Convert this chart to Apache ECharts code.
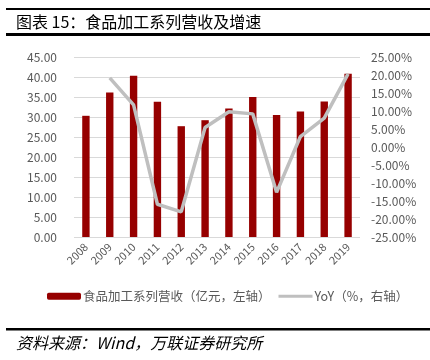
<!DOCTYPE html>
<html>
<head>
<meta charset="utf-8">
<script src="https://cdn.jsdelivr.net/npm/echarts@6/dist/echarts.min.js"></script>
<style>
html,body{margin:0;padding:0;background:#fff;}
#c{width:430px;height:360px;}
</style>
</head>
<body>
<div id="c"></div>
<script>
var categories = ['2008','2009','2010','2011','2012','2013','2014','2015','2016','2017','2018','2019'];
var revenue = [30.3, 36.1, 40.3, 33.8, 27.7, 29.2, 32.1, 35.0, 30.5, 31.4, 33.9, 40.8];
var yoy = [null, 19.2, 11.7, -15.9, -18.0, 5.4, 9.8, 9.2, -12.6, 2.9, 8.0, 20.3];
var leftTicks = {min: 0, max: 45, interval: 5};
var rightTicks = {min: -25, max: 25, interval: 5};
var seriesNames = ['食品加工系列营收（亿元，左轴）', 'YoY（%，右轴）'];

var font = '"Noto Sans CJK SC", "Liberation Sans", sans-serif';
var chart = echarts.init(document.getElementById('c'), null, {renderer: 'canvas'});
chart.setOption({
  animation: false,
  backgroundColor: '#fff',
  textStyle: {fontFamily: font},
  graphic: [
    {type: 'rect', shape: {x: 6, y: 8, width: 424, height: 2}, style: {fill: '#000'}},
    {type: 'rect', shape: {x: 6, y: 33, width: 424, height: 3}, style: {fill: '#000'}},
    {type: 'text', x: 16, y: 22, style: {text: '图表 15：食品加工系列营收及增速', fill: '#000', font: '16px ' + font, verticalAlign: 'middle'}},
    {type: 'rect', shape: {x: 6, y: 328, width: 424, height: 2.5}, style: {fill: '#000'}},
    {type: 'text', x: 16, y: 343, style: {text: '资料来源：Wind，万联证券研究所', fill: '#000', font: 'italic 16px ' + font, verticalAlign: 'middle'}}
  ],
  grid: {left: 74, right: 70, top: 57, bottom: 123},
  legend: {
    left: 42, top: 285,
    itemWidth: 34, itemHeight: 7, itemGap: 8,
    textStyle: {color: '#595959', fontSize: 12.5, fontFamily: font, padding: [0, 0, 0, -3]},
    data: [
      {name: seriesNames[0], icon: 'roundRect'},
      {name: seriesNames[1], icon: 'path://M0,0H34V3H0Z', itemStyle: {color: '#bfbfbf'}}
    ]
  },
  xAxis: {
    type: 'category', data: categories,
    axisLine: {show: false}, axisTick: {show: false},
    axisLabel: {rotate: 45, color: '#595959', fontSize: 11, margin: 8, interval: 0}
  },
  yAxis: [
    {type: 'value', min: leftTicks.min, max: leftTicks.max, interval: leftTicks.interval,
     axisLine: {show: false}, axisTick: {show: false},
     splitLine: {lineStyle: {color: '#d9d9d9', width: 1}},
     axisLabel: {color: '#595959', fontSize: 12, margin: 17, formatter: function(v){return v.toFixed(2);}}},
    {type: 'value', min: rightTicks.min, max: rightTicks.max, interval: rightTicks.interval,
     axisLine: {show: false}, axisTick: {show: false}, splitLine: {show: false},
     axisLabel: {color: '#595959', fontSize: 12, margin: 11, formatter: function(v){return v.toFixed(2) + '%';}}}
  ],
  series: [
    {name: seriesNames[0], type: 'bar', data: revenue, yAxisIndex: 0, barWidth: '31%',
     itemStyle: {color: '#960000'}},
    {name: seriesNames[1], type: 'line', data: yoy, yAxisIndex: 1, symbol: 'none',
     lineStyle: {color: '#bfbfbf', width: 3.5}, itemStyle: {color: '#bfbfbf'}}
  ]
});
</script>
</body>
</html>
